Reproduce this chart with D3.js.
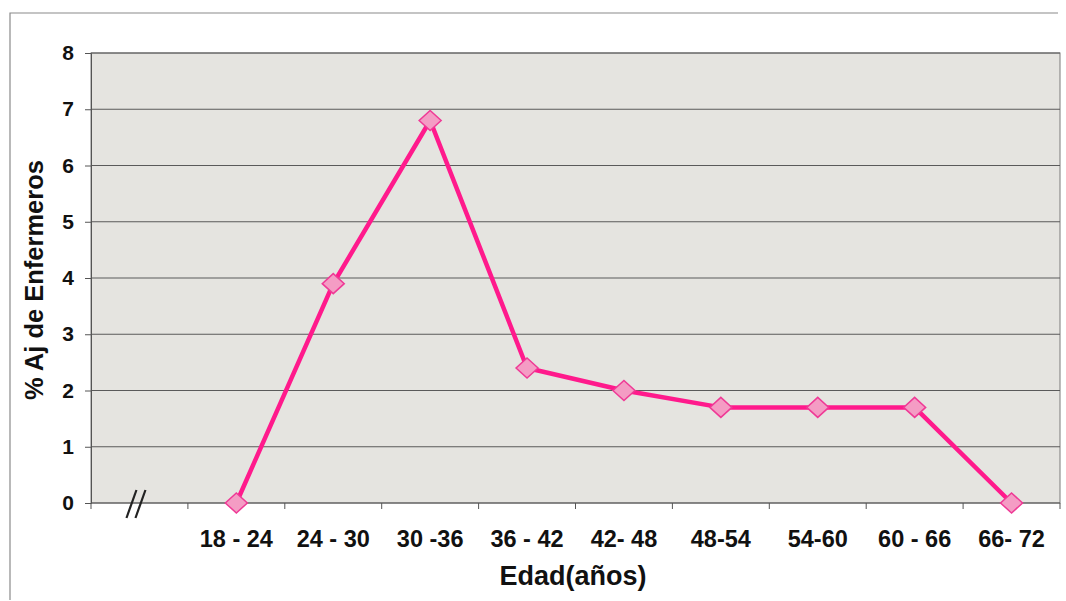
<!DOCTYPE html>
<html><head><meta charset="utf-8">
<script src="https://cdn.jsdelivr.net/npm/d3@7"></script>
<style>body{margin:0;background:#fff}svg{display:block;font-family:Arial,"Liberation Sans",sans-serif}</style>
</head><body>
<svg id="c" width="1066" height="601"></svg>
<script>
const categories = ["", "18 - 24", "24 - 30", "30 -36", "36 - 42", "42- 48", "48-54", "54-60", "60 - 66", "66- 72"];
const values = [null, 0, 3.9, 6.8, 2.4, 2.0, 1.7, 1.7, 1.7, 0];
const yTicks = [0, 1, 2, 3, 4, 5, 6, 7, 8];
const xTitle = "Edad(años)";
const yTitle = "% Aj de Enfermeros";

const svg = d3.select("#c");
const m = {left: 91, right: 1060, top: 53, bottom: 503};

// outer frame
svg.append("path").attr("d", "M10,600 L10,13 L1058,13").attr("fill","none").attr("stroke","#8a8a8a").attr("stroke-width",1.2);

const x = d3.scaleBand().domain(categories.map((c,i)=>i)).range([m.left, m.right]);
const y = d3.scaleLinear().domain([0, 8]).range([m.bottom, m.top]);

svg.append("rect").attr("x", m.left).attr("y", m.top).attr("width", m.right-m.left).attr("height", m.bottom-m.top)
  .attr("fill", "#e5e4e0").attr("stroke", "#7a7a7a").attr("stroke-width", 1);

// gridlines
svg.append("g").selectAll("line").data(yTicks.filter(d=>d>0)).join("line")
  .attr("x1", m.left).attr("x2", m.right).attr("y1", d=>y(d)).attr("y2", d=>y(d))
  .attr("stroke", "#5a5a5a").attr("stroke-width", 1.1);

// y axis
const ya = svg.append("g").attr("transform", `translate(${m.left},0)`)
  .call(d3.axisLeft(y).tickValues(yTicks).tickSize(6).tickPadding(11).tickFormat(d3.format("d")));
ya.select(".domain").attr("stroke","#555");
ya.selectAll(".tick line").attr("stroke","#555");
ya.selectAll("text").attr("font-size", 21).attr("font-weight","bold").attr("fill","#111");

// x axis with boundary ticks
const xa = svg.append("g").attr("transform", `translate(0,${m.bottom})`);
xa.append("line").attr("x1", m.left).attr("x2", m.right).attr("stroke","#555").attr("stroke-width",1.2);
const bounds = categories.map((c,i)=>x(i)).concat([x(categories.length-1)+x.bandwidth()]);
xa.selectAll("line.tk").data(bounds).join("line").attr("class","tk")
  .attr("x1", d=>d).attr("x2", d=>d).attr("y1", 0).attr("y2", 6).attr("stroke","#555");
xa.selectAll("text").data(categories).join("text")
  .attr("x", (d,i)=>x(i)+x.bandwidth()/2).attr("y", 44)
  .attr("text-anchor","middle").attr("font-size", 23.5).attr("font-weight","bold").attr("fill","#111")
  .text(d=>d);

// axis break mark
const bx = x(0) + x.bandwidth()/2 - 4;
[-4, 5].forEach(off=>{
  svg.append("line").attr("x1", bx+off+5).attr("y1", m.bottom-13).attr("x2", bx+off-5).attr("y2", m.bottom+15)
    .attr("stroke","#222").attr("stroke-width",2.2);
});

// titles
svg.append("text").attr("x", 573).attr("y", 585).attr("text-anchor","middle")
  .attr("font-size", 27).attr("font-weight","bold").attr("fill","#111").text(xTitle);
svg.append("text").attr("transform", `translate(43,${(m.top+m.bottom)/2+2}) rotate(-90)`).attr("text-anchor","middle")
  .attr("font-size", 25.5).attr("font-weight","bold").attr("fill","#111").text(yTitle);

// line
const pts = values.map((v,i)=>({i, v})).filter(d=>d.v!==null);
const line = d3.line().x(d=>x(d.i)+x.bandwidth()/2).y(d=>y(d.v));
svg.append("path").datum(pts).attr("d", line).attr("fill","none").attr("stroke","#ff1a8c").attr("stroke-width",4.5).attr("stroke-linejoin","round");

// markers
svg.append("g").selectAll("path").data(pts).join("path")
  .attr("transform", d=>`translate(${x(d.i)+x.bandwidth()/2},${y(d.v)})`)
  .attr("d", "M0,-10 L11,0 L0,10 L-11,0 Z")
  .attr("fill","#f49cc4").attr("stroke","#ef3a96").attr("stroke-width",1.5);
</script>
</body></html>
